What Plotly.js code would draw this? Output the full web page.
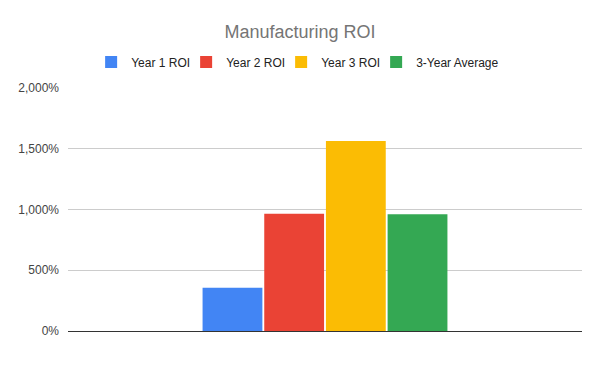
<!DOCTYPE html>
<html>
<head>
<meta charset="utf-8">
<script src="https://cdn.plot.ly/plotly-3.0.1.min.js"></script>
<style>html,body{margin:0;padding:0;background:#fff;}#chart{width:600px;height:371px;}</style>
</head>
<body>
<div id="chart"></div>
<script>
const categories = ['Manufacturing'];
const seriesNames = ['Year 1 ROI', 'Year 2 ROI', 'Year 3 ROI', '3-Year Average'];
const year1 = [3.55];
const year2 = [9.65];
const year3 = [15.63];
const avg3 = [9.61];
const seriesValues = [year1, year2, year3, avg3];
const colors = ['#4285F4', '#EA4335', '#FBBC04', '#34A853'];
const tickVals = [0, 5, 10, 15, 20];
const tickText = ['0%', '500%', '1,000%', '1,500%', '2,000%'];
const legendWidths = [50, 50, 50, 90];

const traces = seriesNames.map((name, i) => ({
  type: 'bar',
  name: name,
  x: categories,
  y: seriesValues[i],
  legendwidth: legendWidths[i],
  marker: { color: colors[i], line: { width: 0 } },
  hoverinfo: 'name+y'
}));

const FONT = 'Arial, "Liberation Sans", sans-serif';

const layout = {
  width: 600,
  height: 371,
  margin: { l: 68, r: 18, t: 88, b: 40 },
  paper_bgcolor: '#ffffff',
  plot_bgcolor: '#ffffff',
  font: { family: FONT, size: 12, color: '#222222' },
  title: {
    text: 'Manufacturing ROI',
    font: { family: FONT, size: 18, color: '#757575' },
    x: 0.5, xanchor: 'center',
    y: 1 - 32 / 371, yanchor: 'middle', yref: 'container'
  },
  showlegend: true,
  legend: {
    orientation: 'h',
    x: 0.045, xanchor: 'left', xref: 'paper',
    y: 1 - 62 / 371, yanchor: 'middle', yref: 'container',
    font: { family: FONT, size: 12, color: '#222222' },
    itemclick: false
  },
  barmode: 'group',
  bargap: 0.52,
  bargroupgap: 0.03,
  xaxis: {
    type: 'category',
    showticklabels: false,
    showgrid: false,
    zeroline: false,
    showline: false,
    ticks: ''
  },
  yaxis: {
    range: [0, 20],
    tickvals: tickVals,
    ticktext: tickText,
    showgrid: true,
    gridcolor: '#cccccc',
    gridwidth: 1,
    zeroline: true,
    zerolinecolor: '#333333',
    zerolinewidth: 1,
    showline: false,
    ticks: '',
    ticklabelstandoff: 8,
    tickfont: { family: FONT, size: 12, color: '#444444' }
  }
};

Plotly.newPlot('chart', traces, layout, { displayModeBar: false, staticPlot: true });
</script>
</body>
</html>
